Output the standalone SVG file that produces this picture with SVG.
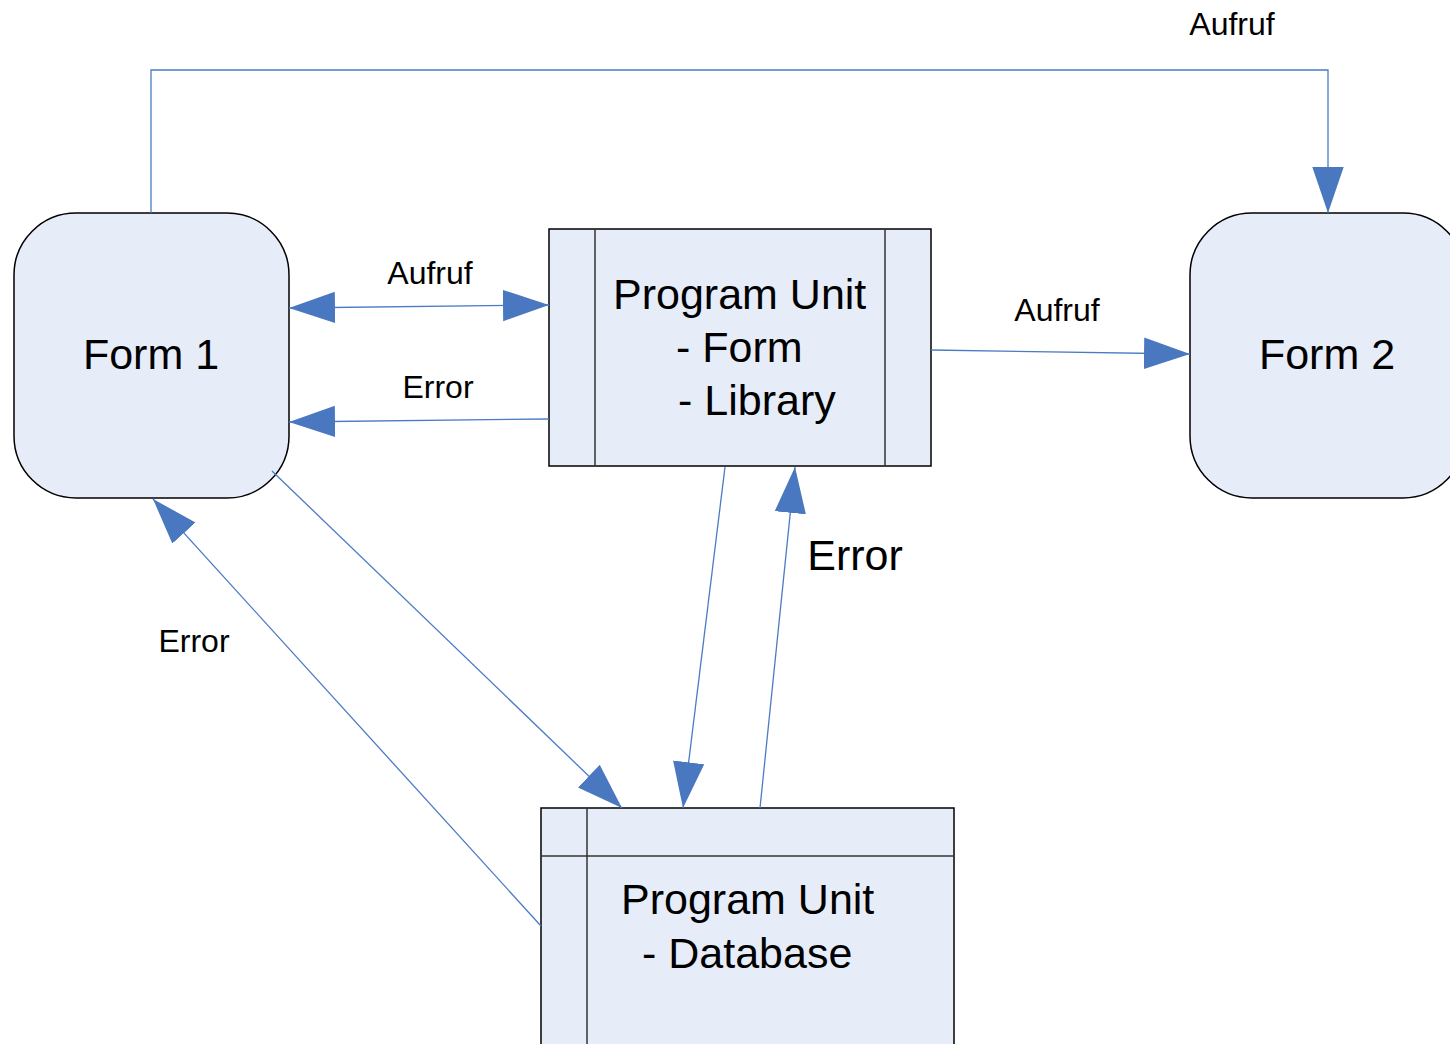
<svg xmlns="http://www.w3.org/2000/svg" width="1450" height="1044" viewBox="0 0 1450 1044">
<style>
.node{fill:#e6edf8;stroke:#000;stroke-width:1.5}
.div{stroke:#333;stroke-width:1.5;fill:none}
.c{fill:none;stroke:#4a7bc4;stroke-width:1.3}
.t{font-family:"Liberation Sans",Arial,sans-serif;fill:#000}
.big{font-size:43px}
.lab{font-size:32px}
</style>
<defs>
<marker id="ah" markerUnits="userSpaceOnUse" markerWidth="46" markerHeight="32" viewBox="0 0 44 30" refX="44" refY="15" orient="auto-start-reverse">
<path d="M0,0 L44,15 L0,30 z" fill="#4a78c0"/>
</marker>
</defs>
<rect width="1450" height="1044" fill="#fff"/>
<g id="form1">
<rect class="node" x="14" y="213" width="275" height="285" rx="62" ry="62"/>
<text class="t big" x="151" y="369" text-anchor="middle">Form 1</text>
</g>
<g id="form2">
<rect class="node" x="1190" y="213" width="275" height="285" rx="62" ry="62"/>
<text class="t big" x="1327" y="369" text-anchor="middle">Form 2</text>
</g>
<g id="pu-form">
<rect class="node" x="549" y="229" width="382" height="237"/>
<line class="div" x1="595" y1="229" x2="595" y2="466"/>
<line class="div" x1="885" y1="229" x2="885" y2="466"/>
<text class="t big" x="613" y="309">Program Unit</text>
<text class="t big" x="676" y="362">- Form</text>
<text class="t big" x="678" y="415">- Library</text>
</g>
<g id="pu-db">
<rect class="node" x="541" y="808" width="413" height="250"/>
<line class="div" x1="587" y1="808" x2="587" y2="1058"/>
<line class="div" x1="541" y1="856" x2="954" y2="856"/>
<text class="t big" x="621" y="914">Program Unit</text>
<text class="t big" x="642" y="968">- Database</text>
</g>
<g id="connectors">
<path class="c" d="M151,213 V70 H1328 V213" marker-end="url(#ah)"/>
<line class="c" x1="289" y1="308" x2="549" y2="305" marker-start="url(#ah)" marker-end="url(#ah)"/>
<line class="c" x1="549" y1="419" x2="289" y2="422" marker-end="url(#ah)"/>
<line class="c" x1="931" y1="350" x2="1190" y2="354" marker-end="url(#ah)"/>
<line class="c" x1="272" y1="471" x2="622" y2="808" marker-end="url(#ah)"/>
<line class="c" x1="725" y1="467" x2="683" y2="808" marker-end="url(#ah)"/>
<line class="c" x1="760" y1="808" x2="795" y2="467" marker-end="url(#ah)"/>
<line class="c" x1="541" y1="926" x2="153" y2="499" marker-end="url(#ah)"/>
</g>
<g id="labels">
<text class="t lab" x="1232" y="35" text-anchor="middle">Aufruf</text>
<text class="t lab" x="430" y="284" text-anchor="middle">Aufruf</text>
<text class="t lab" x="438" y="398" text-anchor="middle">Error</text>
<text class="t lab" x="1057" y="321" text-anchor="middle">Aufruf</text>
<text class="t big" x="855" y="570" text-anchor="middle">Error</text>
<text class="t lab" x="194" y="652" text-anchor="middle">Error</text>
</g>
</svg>
